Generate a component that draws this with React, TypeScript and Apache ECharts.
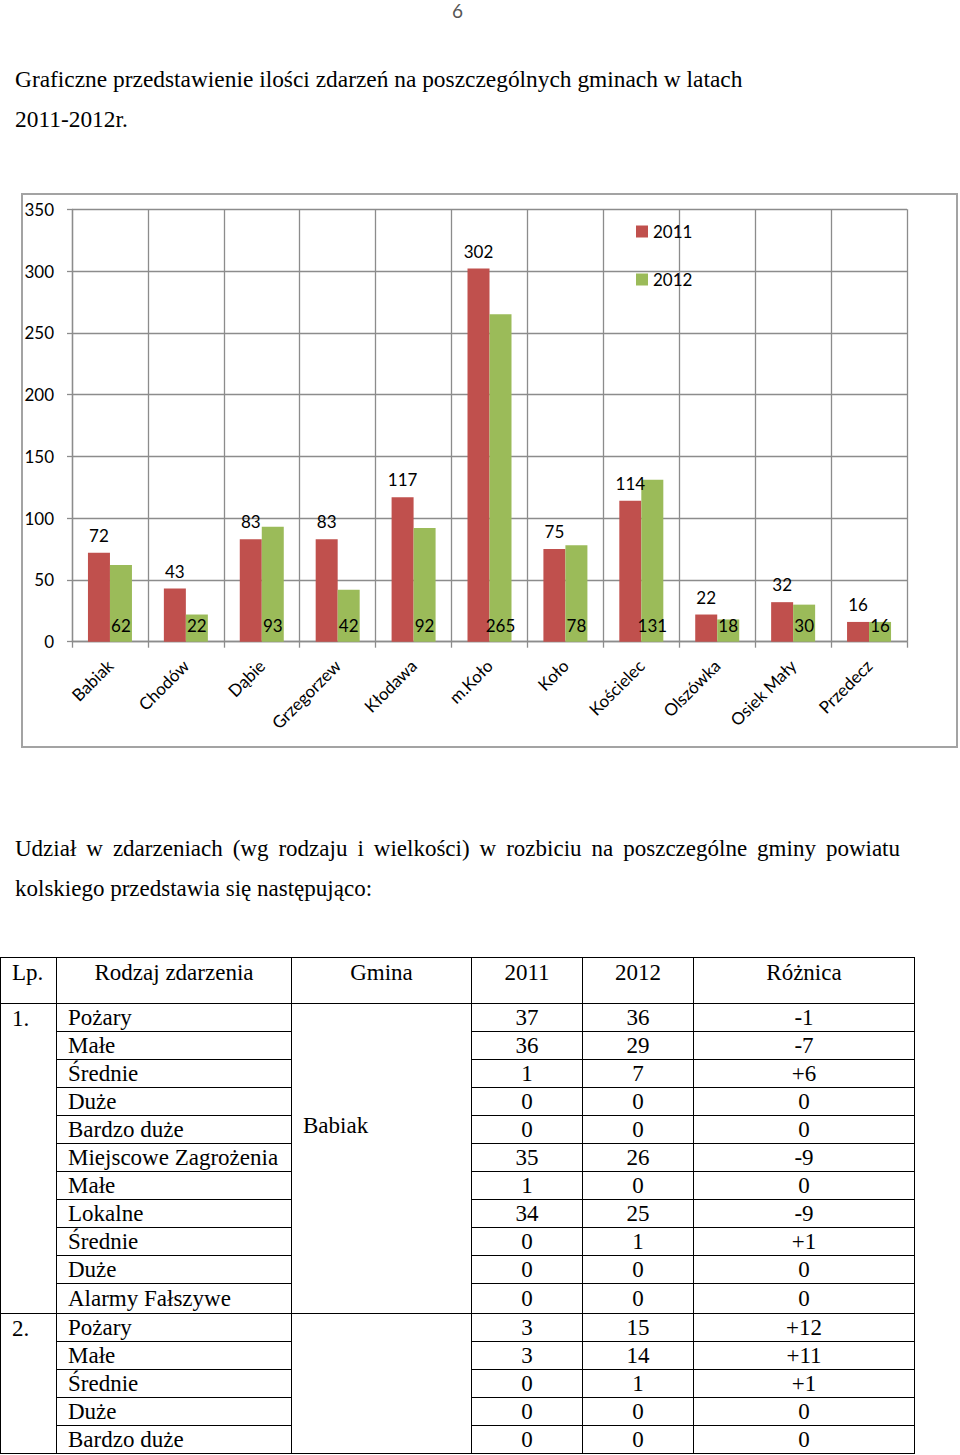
import React, { useEffect, useRef } from "react";
import * as echarts from "echarts";

const CATEGORIES = ["Babiak", "Chodów", "Dąbie", "Grzegorzew", "Kłodawa", "m.Koło", "Koło", "Kościelec", "Olszówka", "Osiek Mały", "Przedecz"];
const VALUES_2011 = [72, 43, 83, 83, 117, 302, 75, 114, 22, 32, 16];
const VALUES_2012 = [62, 22, 93, 42, 92, 265, 78, 131, 18, 30, 16];
const SERIES_NAMES = ["2011", "2012"];
const Y_MIN = 0;
const Y_MAX = 350;
const Y_INTERVAL = 50;

const TABLE_HEADERS = ["Lp.", "Rodzaj zdarzenia", "Gmina", "2011", "2012", "Różnica"];
const GROUP1_LP = "1.";
const GROUP1_GMINA = "Babiak";
const GROUP1_TYPES = ["Pożary", "Małe", "Średnie", "Duże", "Bardzo duże", "Miejscowe Zagrożenia", "Małe", "Lokalne", "Średnie", "Duże", "Alarmy Fałszywe"];
const GROUP1_2011 = ["37", "36", "1", "0", "0", "35", "1", "34", "0", "0", "0"];
const GROUP1_2012 = ["36", "29", "7", "0", "0", "26", "0", "25", "1", "0", "0"];
const GROUP1_DIFF = ["-1", "-7", "+6", "0", "0", "-9", "0", "-9", "+1", "0", "0"];
const GROUP2_LP = "2.";
const GROUP2_GMINA = "";
const GROUP2_TYPES = ["Pożary", "Małe", "Średnie", "Duże", "Bardzo duże"];
const GROUP2_2011 = ["3", "3", "0", "0", "0"];
const GROUP2_2012 = ["15", "14", "1", "0", "0"];
const GROUP2_DIFF = ["+12", "+11", "+1", "0", "0"];

const RED = "#C0504D";
const GREEN = "#9BBB59";
const GRID_COLOR = "#8c8c8c";
const SANS = "Lato";
const SERIF = "'Liberation Serif', 'Times New Roman', serif";

function Chart() {
  const ref = useRef<HTMLDivElement>(null);
  useEffect(() => {
    if (!ref.current) return;
    const chart = echarts.init(ref.current, undefined, { renderer: "svg" });
    const lineStyle = { color: GRID_COLOR, width: 1.3 };
    chart.setOption({
      animation: false,
      textStyle: { fontFamily: SANS },
      graphic: [
        {
          type: "rect",
          silent: true,
          shape: { x: 22, y: 9, width: 935, height: 553 },
          style: { fill: "none", stroke: "#a3a3a3", lineWidth: 2 },
        },
      ],
      grid: { left: 72, right: 53, top: 24.3, bottom: 113.3, containLabel: false },
      legend: {
        orient: "vertical",
        left: 636,
        top: 38,
        padding: 0,
        itemWidth: 12,
        itemHeight: 12,
        itemGap: 31,
        icon: "rect",
        data: SERIES_NAMES,
        textStyle: { fontSize: 17, color: "#000", fontFamily: SANS },
      },
      xAxis: {
        type: "category",
        data: CATEGORIES,
        axisLine: { show: true, lineStyle },
        axisTick: { show: true, length: 6, lineStyle },
        splitLine: { show: true, lineStyle },
        axisLabel: { interval: 0, rotate: 45, fontSize: 17, color: "#000", margin: 21, fontFamily: SANS },
      },
      yAxis: {
        type: "value",
        min: Y_MIN,
        max: Y_MAX,
        interval: Y_INTERVAL,
        axisLine: { show: true, lineStyle },
        axisTick: { show: true, length: 5, lineStyle },
        splitLine: { show: true, lineStyle },
        axisLabel: { fontSize: 17, color: "#000", margin: 18, fontFamily: SANS },
      },
      series: [
        {
          name: SERIES_NAMES[0],
          type: "bar",
          data: VALUES_2011,
          barWidth: 22,
          barGap: "0%",
          itemStyle: { color: RED },
          label: { show: true, position: "top", distance: 9, fontSize: 17, color: "#000", fontFamily: SANS },
        },
        {
          name: SERIES_NAMES[1],
          type: "bar",
          data: VALUES_2012,
          barWidth: 22,
          barGap: "0%",
          itemStyle: { color: GREEN },
          label: { show: true, position: "insideBottom", distance: 8, fontSize: 17, color: "#000", fontFamily: SANS },
        },
      ],
    });
    return () => chart.dispose();
  }, []);
  return <div ref={ref} style={{ position: "absolute", left: 0, top: 185, width: 960, height: 570 }} />;
}

const cellBorder = "1px solid #000";

function DataTable() {
  const td: React.CSSProperties = { border: cellBorder, padding: 0, verticalAlign: "middle", lineHeight: "24px" };
  const numTd: React.CSSProperties = { ...td, textAlign: "center" };
  const typeTd: React.CSSProperties = { ...td, textAlign: "left", paddingLeft: 11, whiteSpace: "nowrap" };
  const renderGroup = (lp: string, gmina: string, types: string[], a: string[], b: string[], d: string[], lastH: number) =>
    types.map((t, i) => (
      <tr key={lp + i} style={{ height: i === types.length - 1 ? lastH : 28 }}>
        {i === 0 && (
          <td rowSpan={types.length} style={{ ...td, verticalAlign: "top", paddingTop: 3, paddingLeft: 11 }}>
            {lp}
          </td>
        )}
        <td style={typeTd}>{t}</td>
        {i === 0 && (
          <td rowSpan={types.length} style={{ ...td, verticalAlign: "top", paddingTop: 110, paddingLeft: 11 }}>
            {gmina}
          </td>
        )}
        <td style={numTd}>{a[i]}</td>
        <td style={numTd}>{b[i]}</td>
        <td style={numTd}>{d[i]}</td>
      </tr>
    ));
  const widths = [56, 235, 180, 111, 111, 221];
  return (
    <table
      style={{
        position: "absolute",
        left: 0,
        top: 957,
        width: 914,
        borderCollapse: "collapse",
        tableLayout: "fixed",
        fontFamily: SERIF,
        fontSize: 23,
        color: "#000",
      }}
    >
      <colgroup>
        {widths.map((w, i) => (
          <col key={i} style={{ width: w }} />
        ))}
      </colgroup>
      <tbody>
        <tr style={{ height: 46 }}>
          {TABLE_HEADERS.map((h, i) => (
            <td
              key={h}
              style={{ ...td, verticalAlign: "top", paddingTop: 3, textAlign: i === 0 ? "left" : "center", paddingLeft: i === 0 ? 11 : 0 }}
            >
              {h}
            </td>
          ))}
        </tr>
        {renderGroup(GROUP1_LP, GROUP1_GMINA, GROUP1_TYPES, GROUP1_2011, GROUP1_2012, GROUP1_DIFF, 30)}
        {renderGroup(GROUP2_LP, GROUP2_GMINA, GROUP2_TYPES, GROUP2_2011, GROUP2_2012, GROUP2_DIFF, 28)}
      </tbody>
    </table>
  );
}

export default function App() {
  return (
    <div
      style={{
        position: "absolute",
        left: 0,
        top: 0,
        width: 960,
        height: 1455,
        overflow: "hidden",
        background: "#fff",
        fontFamily: SERIF,
        color: "#000",
      }}
    >
      <div style={{ position: "absolute", left: 452, top: 1, fontFamily: SANS, fontSize: 19, lineHeight: "19px", color: "#555" }}>6</div>
      <div style={{ position: "absolute", left: 15, top: 59, fontSize: 23.4, lineHeight: "40px", whiteSpace: "nowrap" }}>
        <div>Graficzne przedstawienie ilości zdarzeń na poszczególnych gminach w latach</div>
        <div>2011-2012r.</div>
      </div>
      <Chart />
      <div style={{ position: "absolute", left: 15, top: 829, width: 885, fontSize: 23, lineHeight: "40px" }}>
        <div style={{ textAlign: "justify", textAlignLast: "justify", whiteSpace: "nowrap" }}>
          Udział w zdarzeniach (wg rodzaju i wielkości) w rozbiciu na poszczególne gminy powiatu
        </div>
        <div>kolskiego przedstawia się następująco:</div>
      </div>
      <DataTable />
    </div>
  );
}
